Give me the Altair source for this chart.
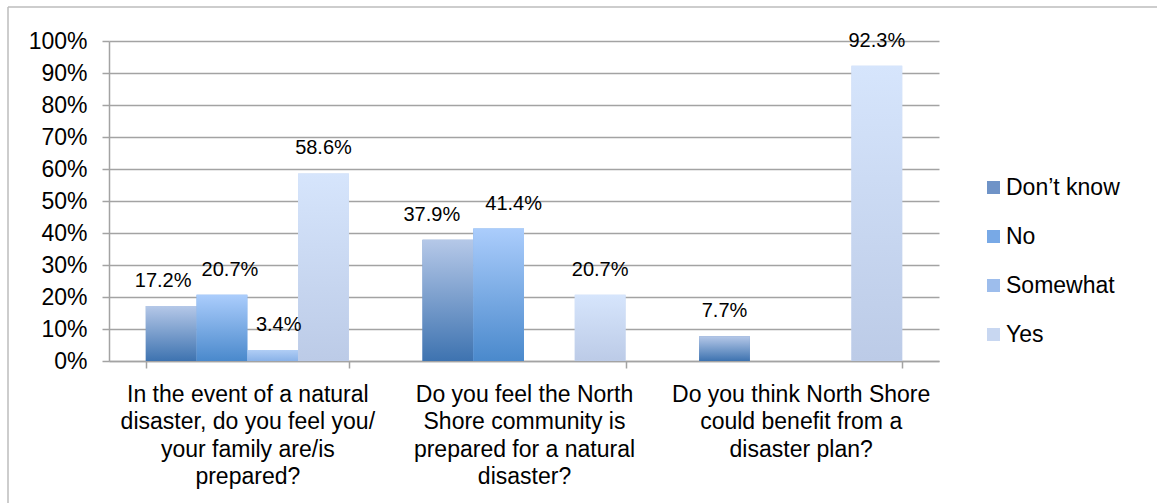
import altair as alt
import pandas as pd

# Survey questions (| marks a line break in the axis label)
categories = [
    "In the event of a natural|disaster, do you feel you/|your family are/is|prepared?",
    "Do you feel the North|Shore community is|prepared for a natural|disaster?",
    "Do you think North Shore|could benefit from a|disaster plan?",
]
series = ["Don’t know", "No", "Somewhat", "Yes"]

# Percent of respondents per answer, one value per question (None = no bar)
dont_know = [17.2, 37.9, 7.7]
no = [20.7, 41.4, None]
somewhat = [3.4, None, None]
yes = [58.6, 20.7, 92.3]

# Vertical gradient (top, bottom) for each answer, plus a flat legend swatch
grad_top = ["#b5c8e8", "#abcdfc", "#b0cdf5", "#d6e5fc"]
grad_bottom = ["#3e73b0", "#4a89cc", "#8ab2e8", "#bccbe7"]
swatch = ["#6f93c7", "#78a9e6", "#9dbdec", "#c8d7f1"]

# Sideways nudges (px) for value labels that would otherwise collide
label_nudge = [
    (0, "Don’t know", -8),
    (0, "No", 8),
    (0, "Somewhat", 6),
    (1, "Don’t know", -16),
    (1, "No", 15),
]

FONT = "Liberation Sans"
GRID = "#a3a3a3"

rows = []
for name, vals in zip(series, [dont_know, no, somewhat, yes]):
    for qi, (q, v) in enumerate(zip(categories, vals)):
        if v is not None:
            dx = 0
            for nq, nname, ndx in label_nudge:
                if nq == qi and nname == name:
                    dx = ndx
            rows.append({"question": q, "response": name, "pct": v, "nudge": dx})
df = pd.DataFrame(rows)

x_enc = alt.X(
    "question:N",
    sort=categories,
    scale=alt.Scale(domain=categories, paddingInner=0.266, paddingOuter=0.133),
    axis=alt.Axis(
        title=None,
        labelAngle=0,
        labelExpr="split(datum.label, '|')",
        labelLineHeight=27.6,
        labelBaseline="top",
        labelPadding=15,
        labelLimit=0,
        tickBand="extent",
        grid=False,
    ),
)
xoff_enc = alt.XOffset(
    "response:N",
    sort=series,
    scale=alt.Scale(domain=series, paddingInner=0, paddingOuter=0),
)
y_enc = alt.Y(
    "pct:Q",
    scale=alt.Scale(domain=[0, 100], nice=False),
    axis=alt.Axis(
        title=None,
        values=list(range(0, 101, 10)),
        labelExpr="datum.value + '%'",
        labelPadding=15,
        grid=True,
    ),
)

base = alt.Chart(df)

# Flat bars that carry the legend; gradient bars are painted on top of them
legend_bars = base.mark_bar().encode(
    x=x_enc,
    xOffset=xoff_enc,
    y=y_enc,
    color=alt.Color(
        "response:N",
        sort=series,
        scale=alt.Scale(domain=series, range=swatch),
        legend=alt.Legend(
            title=None,
            orient="none",
            legendX=873,
            legendY=135,
            symbolType="square",
            symbolSize=169,
            symbolStrokeWidth=0,
            labelFontSize=23,
            labelFont=FONT,
            labelColor="#000000",
            labelOffset=1,
            rowPadding=25,
            padding=0,
        ),
    ),
)

gradient_layers = []
for name, top, bottom in zip(series, grad_top, grad_bottom):
    fill = alt.Gradient(
        gradient="linear",
        stops=[
            alt.GradientStop(color=top, offset=0),
            alt.GradientStop(color=bottom, offset=1),
        ],
        x1=0, x2=0, y1=0, y2=1,
    )
    gradient_layers.append(
        base.transform_filter(alt.datum.response == name)
        .mark_bar(fill=fill)
        .encode(x=x_enc, xOffset=xoff_enc, y=y_enc)
    )

# Value labels, one layer per sideways nudge
label_layers = []
for dx in sorted(set(df["nudge"])):
    label_layers.append(
        base.transform_filter(alt.datum.nudge == dx)
        .transform_calculate(label="format(datum.pct, '.1f') + '%'")
        .mark_text(font=FONT, fontSize=20, color="#000000", baseline="middle",
                   dy=-25, dx=int(dx))
        .encode(x=x_enc, xOffset=xoff_enc, y=y_enc, text="label:N")
    )

# Light frame around the whole chart area
frame_data = pd.DataFrame({"k": [0]})
frame_top = alt.Chart(frame_data).mark_rule(color="#bdbdbd", strokeWidth=1.5).encode(
    x=alt.value(-101), x2=alt.value(1200), y=alt.value(-34)
)
frame_left = alt.Chart(frame_data).mark_rule(color="#bdbdbd", strokeWidth=1.5).encode(
    x=alt.value(-101), y=alt.value(-34), y2=alt.value(600)
)

chart = (
    alt.layer(legend_bars, *gradient_layers, *label_layers, frame_top, frame_left)
    .properties(
        width=830,
        height=320,
        autosize=alt.AutoSizeParams(type="none"),
        padding={"left": 109, "top": 41, "right": 218, "bottom": 142},
        background="#ffffff",
    )
    .configure_view(stroke=None)
    .configure_axis(
        labelFont=FONT,
        labelFontSize=23,
        labelColor="#000000",
        domainColor=GRID,
        domainWidth=1.5,
        tickColor=GRID,
        tickWidth=1.5,
        tickSize=7,
        gridColor=GRID,
        gridWidth=1.5,
    )
)

chart.save("out.html", embed_options={"renderer": "svg", "actions": False})
